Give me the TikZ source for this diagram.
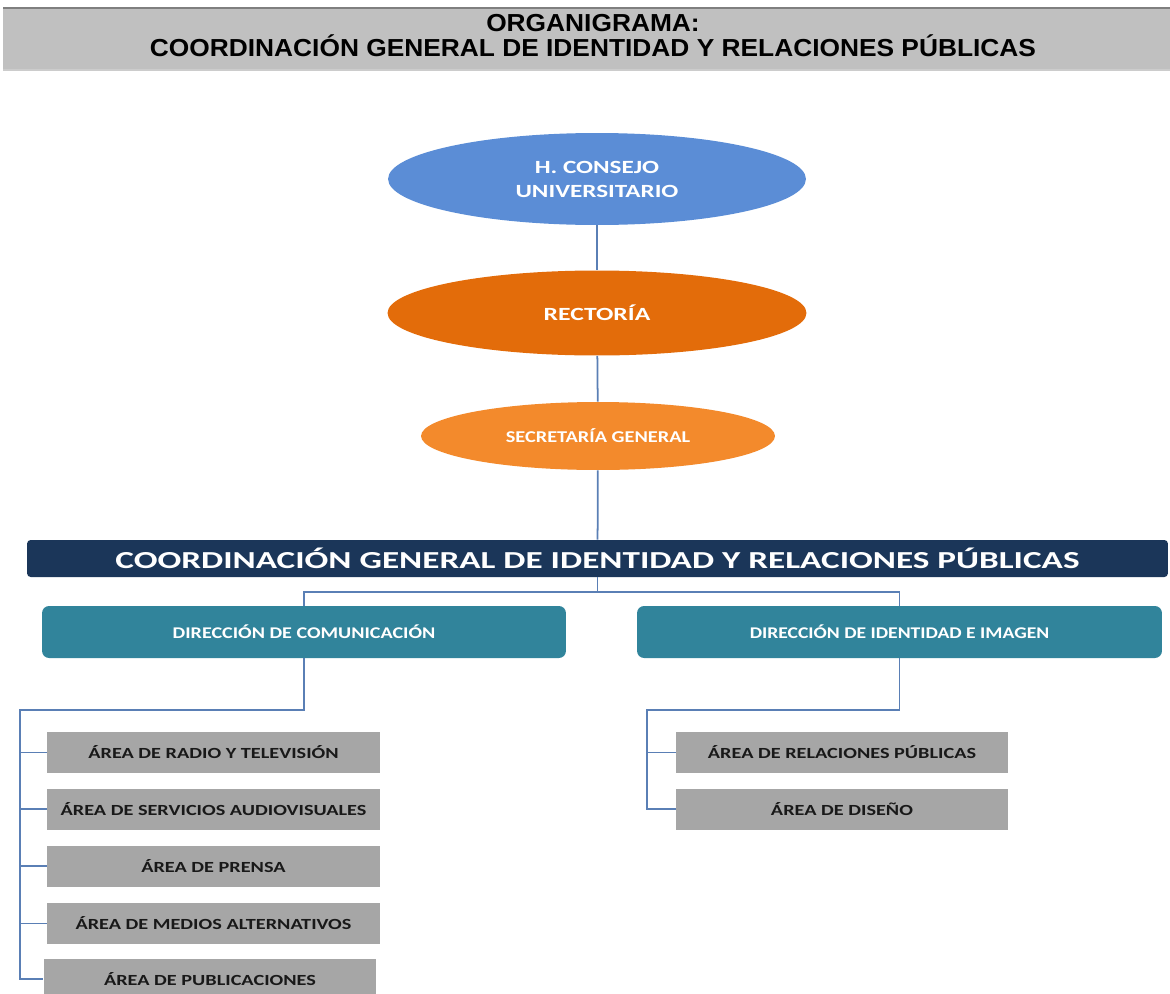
\documentclass[tikz,border=0pt]{standalone}
\usepackage{fontspec}
\setmainfont{Carlito}
\newfontfamily\titlefont{Liberation Sans}
\usepackage{graphicx}
\usepackage{tikz}
\usetikzlibrary{positioning}
\usetikzlibrary{shapes.geometric}
\definecolor{bandgray}{HTML}{C0C0C0}
\definecolor{bandedge}{HTML}{7F7F7F}
\definecolor{consejoblue}{HTML}{5B8DD6}
\definecolor{rectorange}{HTML}{E36C0A}
\definecolor{secorange}{HTML}{F38A2C}
\definecolor{coordnavy}{HTML}{1B3659}
\definecolor{dirteal}{HTML}{31849B}
\definecolor{areagray}{HTML}{A6A6A6}
\definecolor{linkblue}{HTML}{5A7FB5}
\newcommand\wtxt[2][1.3]{\scalebox{#1}[1]{#2}}
\tikzset{oval/.style={ellipse, inner sep=0pt, text=white, font=\bfseries}}
\tikzset{coordbar/.style={rectangle, rounded corners=2pt, fill=coordnavy, text=white, minimum width=22.82cm, minimum height=.74cm, font=\fontsize{13.9}{16}\selectfont\bfseries}}
\tikzset{dirbox/.style={rectangle, rounded corners=4pt, fill=dirteal, text=white, minimum width=10.5cm, minimum height=1.04cm, font=\fontsize{9.3}{11}\selectfont\bfseries}}
\tikzset{areabox/.style={rectangle, fill=areagray, text=black!90, minimum width=6.66cm, minimum height=.82cm, font=\fontsize{8.8}{10}\selectfont\bfseries}}
\tikzset{link/.style={draw=linkblue, line width=1pt}}

\begin{document}
\begin{tikzpicture}[x=0.02cm, y=-0.02cm]
        \useasboundingbox (0,0) rectangle (1170,994);

        % banner
        \fill [bandgray] (3,8) rectangle (1170,70);
        \draw [bandedge, line width=1.5pt] (3,8) -- (1170,8);
        \draw [black!20, line width=.6pt] (3,70) -- (1170,70);
        \node [align=center, inner sep=0pt, font=\titlefont\bfseries\fontsize{14}{13.7}\selectfont](title) at (593,35.5) {\wtxt[1.07]{ORGANIGRAMA:}\\\wtxt[1.07]{COORDINACIÓN GENERAL DE IDENTIDAD Y RELACIONES PÚBLICAS}};

        % upper chain
        \node [oval, fill=consejoblue, minimum width=8.36cm, minimum height=1.84cm, align=center, font=\fontsize{10.6}{13.7}\selectfont\bfseries](consejo) at (597,179) {\wtxt[1.35]{H. CONSEJO}\\\wtxt[1.35]{UNIVERSITARIO}};
        \node [oval, fill=rectorange, minimum width=8.38cm, minimum height=1.7cm, font=\fontsize{10.6}{13}\selectfont\bfseries](rectoria) at (597,313) {\wtxt[1.38]{RECTORÍA}};
        \node [oval, fill=secorange, minimum width=7.08cm, minimum height=1.36cm, font=\fontsize{9.4}{11}\selectfont\bfseries](secretaria) at (598,436) {\wtxt[1.23]{SECRETARÍA GENERAL}};
        \node [coordbar](coord) at (597.5,558.5) {\wtxt[1.44]{COORDINACIÓN GENERAL DE IDENTIDAD Y RELACIONES PÚBLICAS}};

        % directions
        \node [dirbox, minimum width=10.48cm](dircom) at (304,632) {\wtxt[1.23]{DIRECCIÓN DE COMUNICACIÓN}};
        \node [dirbox](dirimg) at (899.5,632) {\wtxt[1.2]{DIRECCIÓN DE IDENTIDAD E IMAGEN}};

        % areas
        \node [areabox](arearadio) at (213.5,752.5) {\wtxt[1.31]{ÁREA DE RADIO Y TELEVISIÓN}};
        \node [areabox](areaserv) at (213.5,809) {\wtxt[1.31]{ÁREA DE SERVICIOS AUDIOVISUALES}};
        \node [areabox](areapren) at (213.5,866) {\wtxt[1.31]{ÁREA DE PRENSA}};
        \node [areabox](areamed) at (213.5,923.5) {\wtxt[1.31]{ÁREA DE MEDIOS ALTERNATIVOS}};
        \node [areabox](areapub) at (210,979) {\wtxt[1.31]{ÁREA DE PUBLICACIONES}};
        \node [areabox, minimum width=6.64cm](arearel) at (842,752.5) {\wtxt[1.31]{ÁREA DE RELACIONES PÚBLICAS}};
        \node [areabox, minimum width=6.64cm](areadis) at (842,809) {\wtxt[1.31]{ÁREA DE DISEÑO}};

        \coordinate (split) at (597.5,592);
        \coordinate (ltop) at (20,710);
        \coordinate (rtop) at (647,710);

        \draw [link] (consejo) -- (rectoria);
        \draw [link] (rectoria) -- (secretaria);
        \draw [link] (secretaria) -- (coord);
        \draw [link] (coord.south) -- (split);
        \draw [link] (dircom.north) |- (split) -| (dirimg.north);
        \draw [link] (dircom.south) |- (ltop) -- (ltop |- areapub.west) -- (areapub.west);
        \draw [link] (ltop |- arearadio.west) -- (arearadio.west);
        \draw [link] (ltop |- areaserv.west) -- (areaserv.west);
        \draw [link] (ltop |- areapren.west) -- (areapren.west);
        \draw [link] (ltop |- areamed.west) -- (areamed.west);
        \draw [link] (dirimg.south) |- (rtop) -- (rtop |- areadis.west) -- (areadis.west);
        \draw [link] (rtop |- arearel.west) -- (arearel.west);
\end{tikzpicture}
\end{document}
